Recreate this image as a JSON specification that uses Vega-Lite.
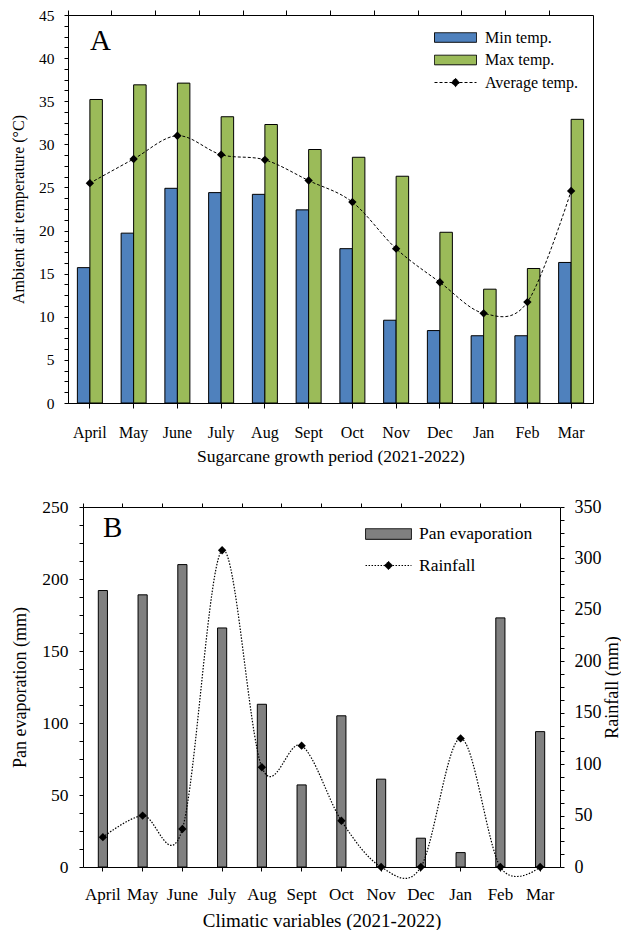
{
  "$schema": "https://vega.github.io/schema/vega-lite/v6.json",
  "padding": {"left": 10, "top": 7, "right": 0, "bottom": 0},
  "spacing": 32,
  "resolve": {"scale": {"fill": "independent"}, "legend": {"fill": "independent"}},
  "config": {
    "font": "Liberation Serif",
    "view": {"stroke": "black", "strokeWidth": 1},
    "axis": {"labelFont": "Liberation Serif", "titleFont": "Liberation Serif", "labelColor": "black", "titleColor": "black", "domainColor": "black", "tickColor": "black", "grid": false, "titleFontWeight": "normal", "labelFlush": false, "labelOverlap": false, "domainWidth": 1, "tickWidth": 1},
    "legend": {"labelFont": "Liberation Serif", "labelColor": "black"},
    "title": {"font": "Liberation Serif", "fontWeight": "normal", "color": "black"}
  },
  "datasets": {
    "temp": [
      {"month": "April", "series": "Min temp.", "value": 15.7}, {"month": "April", "series": "Max temp.", "value": 35.2},
      {"month": "May", "series": "Min temp.", "value": 19.7}, {"month": "May", "series": "Max temp.", "value": 36.9},
      {"month": "June", "series": "Min temp.", "value": 24.9}, {"month": "June", "series": "Max temp.", "value": 37.1},
      {"month": "July", "series": "Min temp.", "value": 24.4}, {"month": "July", "series": "Max temp.", "value": 33.2},
      {"month": "Aug", "series": "Min temp.", "value": 24.2}, {"month": "Aug", "series": "Max temp.", "value": 32.3},
      {"month": "Sept", "series": "Min temp.", "value": 22.4}, {"month": "Sept", "series": "Max temp.", "value": 29.4},
      {"month": "Oct", "series": "Min temp.", "value": 17.9}, {"month": "Oct", "series": "Max temp.", "value": 28.5},
      {"month": "Nov", "series": "Min temp.", "value": 9.6}, {"month": "Nov", "series": "Max temp.", "value": 26.3},
      {"month": "Dec", "series": "Min temp.", "value": 8.4}, {"month": "Dec", "series": "Max temp.", "value": 19.8},
      {"month": "Jan", "series": "Min temp.", "value": 7.8}, {"month": "Jan", "series": "Max temp.", "value": 13.2},
      {"month": "Feb", "series": "Min temp.", "value": 7.8}, {"month": "Feb", "series": "Max temp.", "value": 15.6},
      {"month": "Mar", "series": "Min temp.", "value": 16.3}, {"month": "Mar", "series": "Max temp.", "value": 32.9}
    ],
    "avg": [
      {"month": "April", "value": 25.5}, {"month": "May", "value": 28.3}, {"month": "June", "value": 31.0},
      {"month": "July", "value": 28.8}, {"month": "Aug", "value": 28.2}, {"month": "Sept", "value": 25.8},
      {"month": "Oct", "value": 23.3}, {"month": "Nov", "value": 17.9}, {"month": "Dec", "value": 14.0},
      {"month": "Jan", "value": 10.4}, {"month": "Feb", "value": 11.7}, {"month": "Mar", "value": 24.6}
    ],
    "pan": [
      {"month": "April", "value": 192}, {"month": "May", "value": 189}, {"month": "June", "value": 210},
      {"month": "July", "value": 166}, {"month": "Aug", "value": 113}, {"month": "Sept", "value": 57},
      {"month": "Oct", "value": 105}, {"month": "Nov", "value": 61}, {"month": "Dec", "value": 20},
      {"month": "Jan", "value": 10}, {"month": "Feb", "value": 173}, {"month": "Mar", "value": 94}
    ],
    "rain": [
      {"month": "April", "value": 29}, {"month": "May", "value": 50}, {"month": "June", "value": 37},
      {"month": "July", "value": 308}, {"month": "Aug", "value": 97}, {"month": "Sept", "value": 118},
      {"month": "Oct", "value": 45}, {"month": "Nov", "value": 0}, {"month": "Dec", "value": 0},
      {"month": "Jan", "value": 125}, {"month": "Feb", "value": 0}, {"month": "Mar", "value": 0}
    ]
  },
  "vconcat": [
    {
      "width": 525,
      "height": 388,
      "title": {"text": "A", "anchor": "start", "frame": "group", "orient": "top", "offset": -71, "dx": 22, "fontSize": 29, "baseline": "alphabetic"},
      "encoding": {
        "y": {"field": "value", "type": "quantitative", "scale": {"domain": [0, 45], "nice": false},
          "axis": {"title": "Ambient air temperature (°C)", "titleFontSize": 16, "labelFontSize": 15.5, "tickSize": 4, "labelPadding": 10, "titlePadding": 12,
            "values": [0,1.25,2.5,3.75,5,6.25,7.5,8.75,10,11.25,12.5,13.75,15,16.25,17.5,18.75,20,21.25,22.5,23.75,25,26.25,27.5,28.75,30,31.25,32.5,33.75,35,36.25,37.5,38.75,40,41.25,42.5,43.75,45],
            "labelExpr": "datum.value % 5 === 0 ? datum.label : ''"}}
      },
      "layer": [
        {
          "data": {"name": "temp"},
          "mark": {"type": "bar", "stroke": "black", "strokeWidth": 1},
          "encoding": {
            "x": {"field": "month", "type": "nominal", "sort": ["April","May","June","July","Aug","Sept","Oct","Nov","Dec","Jan","Feb","Mar"],
              "scale": {"paddingInner": 0, "paddingOuter": 0},
              "axis": {"title": "Sugarcane growth period (2021-2022)", "labelAngle": 0, "labelFontSize": 16, "titleFontSize": 17.5, "tickSize": 5, "labelPadding": 16.5, "titlePadding": 7, "bandPosition": 0.5}},
            "xOffset": {"field": "series", "type": "nominal", "scale": {"domain": ["Min temp.", "Max temp."], "paddingInner": 0, "paddingOuter": 0.75}},
            "fill": {"field": "series", "type": "nominal",
              "scale": {"domain": ["Min temp.", "Max temp.", "Average temp."], "range": ["#4F81BD", "#9BBB59", "black"]},
              "legend": {"title": null, "orient": "none", "legendX": 377, "legendY": 12, "symbolSize": 400, "symbolType": "M-2.1,-0.48H2.1V0.48H-2.1Z",
                "symbolStrokeColor": "black", "symbolStrokeWidth": 1, "labelFontSize": 16, "labelOffset": 19, "rowPadding": 3.5,
                "encode": {"symbols": {"update": {
                  "shape": {"signal": "datum.value === 'Average temp.' ? 'M-2.1,0H2.1M0,-0.42L0.42,0L0,0.42L-0.42,0Z' : 'M-2.1,-0.48H2.1V0.48H-2.1Z'"},
                  "strokeDash": {"signal": "datum.value === 'Average temp.' ? [3,2] : [1,0]"},
                  "stroke": {"value": "black"}, "opacity": {"value": 1}, "fillOpacity": {"value": 1}}}}}}
          }
        },
        {
          "data": {"name": "avg"},
          "mark": {"type": "line", "interpolate": "cardinal", "stroke": "black", "strokeWidth": 1, "strokeDash": [3, 2]},
          "encoding": {
            "x": {"field": "month", "type": "nominal", "sort": ["April","May","June","July","Aug","Sept","Oct","Nov","Dec","Jan","Feb","Mar"],
              "axis": {"bandPosition": 0, "labels": false, "domain": false, "tickSize": 5, "title": null}}
          }
        },
        {
          "data": {"name": "avg"},
          "mark": {"type": "point", "shape": "diamond", "filled": true, "size": 70, "opacity": 1},
          "encoding": {
            "x": {"field": "month", "type": "nominal", "sort": ["April","May","June","July","Aug","Sept","Oct","Nov","Dec","Jan","Feb","Mar"], "axis": null},
            "fill": {"datum": "Average temp.", "type": "nominal"}
          }
        }
      ],
      "resolve": {"axis": {"x": "independent"}}
    },
    {
      "width": 492,
      "height": 360,
      "view": {"stroke": null},
      "title": {"text": "B", "anchor": "start", "frame": "group", "orient": "top", "offset": -68, "dx": 35, "fontSize": 29, "baseline": "alphabetic"},
      "layer": [
        {
          "data": {"name": "pan"},
          "mark": {"type": "bar", "width": {"band": 0.23}, "stroke": "black", "strokeWidth": 1},
          "encoding": {
            "x": {"field": "month", "type": "nominal", "sort": ["April","May","June","July","Aug","Sept","Oct","Nov","Dec","Jan","Feb","Mar"],
              "scale": {"range": [15, 492], "paddingInner": 0, "paddingOuter": 0},
              "axis": {"title": "Climatic variables (2021-2022)", "labelAngle": 0, "labelFontSize": 17, "titleFontSize": 19, "tickSize": 4, "labelPadding": 15, "titlePadding": 9, "bandPosition": 0.5}},
            "y": {"field": "value", "type": "quantitative", "scale": {"domain": [0, 250], "nice": false},
              "axis": {"orient": "left", "offset": -15, "title": "Pan evaporation (mm)", "titleFontSize": 18, "labelFontSize": 17.5, "tickSize": 4, "labelPadding": 11, "titlePadding": 12,
                "values": [0,12.5,25,37.5,50,62.5,75,87.5,100,112.5,125,137.5,150,162.5,175,187.5,200,212.5,225,237.5,250],
                "labelExpr": "datum.value % 50 === 0 ? datum.label : ''"}},
            "fill": {"datum": "Pan evaporation", "type": "nominal",
              "scale": {"domain": ["Pan evaporation", "Rainfall"], "range": ["#808080", "black"]},
              "legend": {"title": null, "orient": "none", "legendX": 306, "legendY": 12.5, "symbolSize": 784, "symbolType": "M-1.64,-0.38H1.64V0.38H-1.64Z",
                "symbolStrokeColor": "black", "symbolStrokeWidth": 1, "labelFontSize": 17.5, "labelOffset": 16, "rowPadding": 8.5,
                "encode": {"symbols": {"update": {
                  "shape": {"signal": "datum.value === 'Rainfall' ? 'M-1.64,0H1.64M0,-0.3L0.3,0L0,0.3L-0.3,0Z' : 'M-1.64,-0.38H1.64V0.38H-1.64Z'"},
                  "strokeDash": {"signal": "datum.value === 'Rainfall' ? [1.5,1.5] : [1,0]"},
                  "stroke": {"value": "black"}, "opacity": {"value": 1}, "fillOpacity": {"value": 1}}}}}}
          }
        },
        {
          "layer": [
            {
              "data": {"name": "rain"},
              "mark": {"type": "line", "interpolate": "cardinal", "stroke": "black", "strokeWidth": 1.2, "strokeDash": [1.5, 1.5]},
              "encoding": {
                "x": {"field": "month", "type": "nominal", "sort": ["April","May","June","July","Aug","Sept","Oct","Nov","Dec","Jan","Feb","Mar"],
                  "axis": {"bandPosition": 0, "labels": false, "domain": false, "tickSize": 4, "title": null}},
                "y": {"field": "value", "type": "quantitative", "scale": {"domain": [0, 350], "nice": false},
                  "axis": {"orient": "right", "title": "Rainfall (mm)", "titleAngle": 270, "titleFontSize": 18, "labelFontSize": 18, "tickSize": 4, "labelPadding": 10, "titlePadding": 20,
                    "values": [0,12.5,25,37.5,50,62.5,75,87.5,100,112.5,125,137.5,150,162.5,175,187.5,200,212.5,225,237.5,250,262.5,275,287.5,300,312.5,325,337.5,350],
                    "labelExpr": "datum.value % 50 === 0 ? datum.label : ''"}}
              }
            },
            {
              "data": {"name": "rain"},
              "mark": {"type": "point", "shape": "diamond", "filled": true, "size": 70, "opacity": 1},
              "encoding": {
                "x": {"field": "month", "type": "nominal", "sort": ["April","May","June","July","Aug","Sept","Oct","Nov","Dec","Jan","Feb","Mar"],
                  "axis": {"orient": "top", "labels": false, "ticks": false, "title": null, "domain": true}},
                "y": {"field": "value", "type": "quantitative", "axis": null},
                "fill": {"datum": "Rainfall", "type": "nominal"}
              }
            }
          ],
          "resolve": {"axis": {"x": "independent", "y": "independent"}}
        }
      ],
      "resolve": {"scale": {"y": "independent"}, "axis": {"x": "independent", "y": "independent"}}
    }
  ]
}
